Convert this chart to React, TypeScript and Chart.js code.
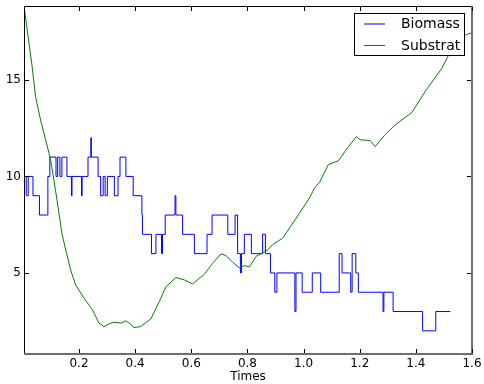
import React, { useEffect, useRef } from "react";
import { Chart, registerables } from "chart.js";

Chart.register(...registerables);

// ---- data ----
const X_TICKS = [0.2, 0.4, 0.6, 0.8, 1.0, 1.2, 1.4, 1.6];
const Y_TICKS = [5, 10, 15];
const X_MIN = 0.004;
const X_MAX = 1.6;
const Y_MIN = 0.8;
const Y_MAX = 18.83;

const SERIES_NAMES = ["Biomass", "Substrat"];

const bioT = [0.004, 0.012, 0.019, 0.036, 0.059, 0.089, 0.096, 0.118, 0.124, 0.132, 0.139, 0.157, 0.173, 0.175, 0.209, 0.211, 0.232, 0.242, 0.244, 0.268, 0.277, 0.286, 0.293, 0.301, 0.326, 0.339, 0.346, 0.367, 0.393, 0.424, 0.426, 0.458, 0.474, 0.494, 0.4975, 0.507, 0.542, 0.545, 0.569, 0.611, 0.656, 0.674, 0.73, 0.756, 0.765, 0.775, 0.779, 0.789, 0.814, 0.854, 0.864, 0.882, 0.8975, 0.905, 0.969, 0.973, 0.995, 1.031, 1.061, 1.127, 1.137, 1.168, 1.173, 1.186, 1.195, 1.283, 1.286, 1.319, 1.424, 1.471, 1.523];
const bioV = [10, 9, 10, 9, 8, 10, 11, 10, 11, 10, 11, 10, 9, 10, 9, 10, 11, 12, 11, 10, 9, 10, 9, 10, 9, 10, 11, 10, 9, 8, 7, 6, 7, 6, 7, 8, 9, 8, 7, 6, 7, 8, 7, 8, 6, 5, 6, 7, 6, 7, 6, 5, 4, 5, 3, 5, 4, 5, 4, 6, 5, 4, 6, 5, 4, 3, 4, 3, 2, 3, 3];

const subT = [0.004, 0.033, 0.045, 0.063, 0.081, 0.099, 0.117, 0.14, 0.17, 0.188, 0.218, 0.248, 0.271, 0.289, 0.307, 0.325, 0.349, 0.367, 0.379, 0.396, 0.42, 0.456, 0.486, 0.51, 0.545, 0.575, 0.605, 0.646, 0.676, 0.706, 0.724, 0.748, 0.771, 0.789, 0.807, 0.831, 0.855, 0.873, 0.89, 0.908, 0.926, 0.95, 0.986, 1.021, 1.039, 1.057, 1.088, 1.124, 1.16, 1.189, 1.201, 1.237, 1.255, 1.29, 1.326, 1.386, 1.433, 1.493, 1.517, 1.54, 1.58, 1.6];
const subV = [18.83, 15.69, 14.14, 12.93, 11.9, 10.86, 9.21, 6.97, 5.16, 4.38, 3.69, 3.09, 2.4, 2.22, 2.36, 2.45, 2.4, 2.52, 2.4, 2.17, 2.22, 2.62, 3.52, 4.29, 4.76, 4.64, 4.43, 4.93, 5.5, 5.99, 5.9, 5.55, 5.26, 5.38, 5.31, 5.86, 6.04, 6.21, 6.47, 6.64, 6.81, 7.33, 8.11, 8.88, 9.4, 9.7, 10.61, 10.81, 11.55, 12.07, 11.9, 11.86, 11.55, 12.16, 12.67, 13.31, 14.4, 15.61, 16.3, 17.0, 17.35, 17.45];

const BLUE = "#0000ff";
const GREEN = "#008000";
const FONT = "'DejaVu Sans', sans-serif";

const framePlugin = {
  id: "mplFrame",
  afterDraw(chart: any) {
    const { ctx, chartArea: a, scales } = chart;
    const xs = scales.x;
    const ys = scales.y;
    const L = Math.round(a.left);
    const T = Math.round(a.top);
    const R = Math.round(a.right);
    const B = Math.round(a.bottom);
    ctx.save();
    // spines
    ctx.fillStyle = "#000000";
    ctx.fillRect(L, T, 1, B - T);
    ctx.fillRect(L, T, R - L, 1);
    ctx.fillStyle = "#6e6e6e";
    ctx.fillRect(R - 1, T, 2, B - T + 1);
    ctx.fillRect(L, B - 1, R - L + 1, 2);
    // inward ticks on all four sides
    ctx.fillStyle = "#000000";
    for (const v of X_TICKS) {
      const px = Math.round(xs.getPixelForValue(v));
      ctx.fillRect(px, B - 5, 1, 4);
      ctx.fillRect(px, T + 1, 1, 4);
    }
    for (const v of Y_TICKS) {
      const py = Math.round(ys.getPixelForValue(v));
      ctx.fillRect(L + 1, py, 4, 1);
      ctx.fillRect(R - 5, py, 4, 1);
    }

    // legend
    const lx = 354.5, ly = 13.5, lw = 110, lh = 42;
    ctx.fillStyle = "#ffffff";
    ctx.fillRect(lx, ly, lw, lh);
    ctx.lineWidth = 1;
    ctx.strokeStyle = "#000000";
    ctx.strokeRect(lx, ly, lw, lh);
    const rows = [
      { name: SERIES_NAMES[0], color: BLUE, y: 24 },
      { name: SERIES_NAMES[1], color: GREEN, y: 45.5 },
    ];
    ctx.font = "14px " + FONT;
    ctx.textBaseline = "middle";
    ctx.textAlign = "left";
    for (const r of rows) {
      ctx.strokeStyle = r.color;
      ctx.beginPath();
      ctx.moveTo(364, r.y);
      ctx.lineTo(385, r.y);
      ctx.stroke();
      ctx.fillStyle = "#000000";
      ctx.fillText(r.name, 401, r.y + 0.5);
    }
    ctx.restore();
  },
};

export default function App() {
  const ref = useRef<HTMLCanvasElement | null>(null);
  useEffect(() => {
    if (!ref.current) return;
    const chart = new Chart(ref.current, {
      type: "line",
      data: {
        datasets: [
          {
            label: SERIES_NAMES[1],
            data: subT.map((t, i) => ({ x: t, y: subV[i] })),
            borderColor: GREEN,
            borderWidth: 1,
            pointRadius: 0,
            tension: 0,
            fill: false,
          },
          {
            label: SERIES_NAMES[0],
            data: bioT.map((t, i) => ({ x: t, y: bioV[i] })),
            borderColor: BLUE,
            borderWidth: 1,
            pointRadius: 0,
            stepped: "before",
            fill: false,
          },
        ],
      },
      options: {
        animation: false,
        responsive: false,
        devicePixelRatio: 1,
        layout: { padding: { top: 6, right: 12, left: 0, bottom: 0 } },
        plugins: { legend: { display: false }, tooltip: { enabled: false } },
        scales: {
          x: {
            type: "linear",
            min: X_MIN,
            max: X_MAX,
            grid: { display: false, drawTicks: false },
            border: { display: false },
            afterBuildTicks: (s: any) => {
              s.ticks = X_TICKS.map((v) => ({ value: v }));
            },
            afterFit: (s: any) => {
              s.height = 30;
              s.paddingLeft = 0;
              s.paddingRight = 0;
            },
            ticks: {
              autoSkip: false,
              maxRotation: 0,
              padding: 3,
              color: "#000",
              font: { family: FONT, size: 12 },
              callback: (v: any) => Number(v).toFixed(1),
            },
            title: {
              display: true,
              text: "Times",
              color: "#000",
              font: { family: FONT, size: 12 },
              padding: { top: 0, bottom: 0 },
            },
          },
          y: {
            type: "linear",
            min: Y_MIN,
            max: Y_MAX,
            grid: { display: false, drawTicks: false },
            border: { display: false },
            afterBuildTicks: (s: any) => {
              s.ticks = Y_TICKS.map((v) => ({ value: v }));
            },
            afterFit: (s: any) => {
              s.width = 24;
              s.paddingTop = 0;
              s.paddingBottom = 0;
            },
            ticks: {
              padding: 3,
              color: "#000",
              font: { family: FONT, size: 12 },
              callback: (v: any) => String(v),
            },
          },
        },
      },
      plugins: [framePlugin],
    });
    return () => chart.destroy();
  }, []);
  return (
    <div style={{ position: "absolute", left: 0, top: 0, width: 484, height: 384, background: "#fff" }}>
      <canvas ref={ref} width={484} height={384} />
    </div>
  );
}
